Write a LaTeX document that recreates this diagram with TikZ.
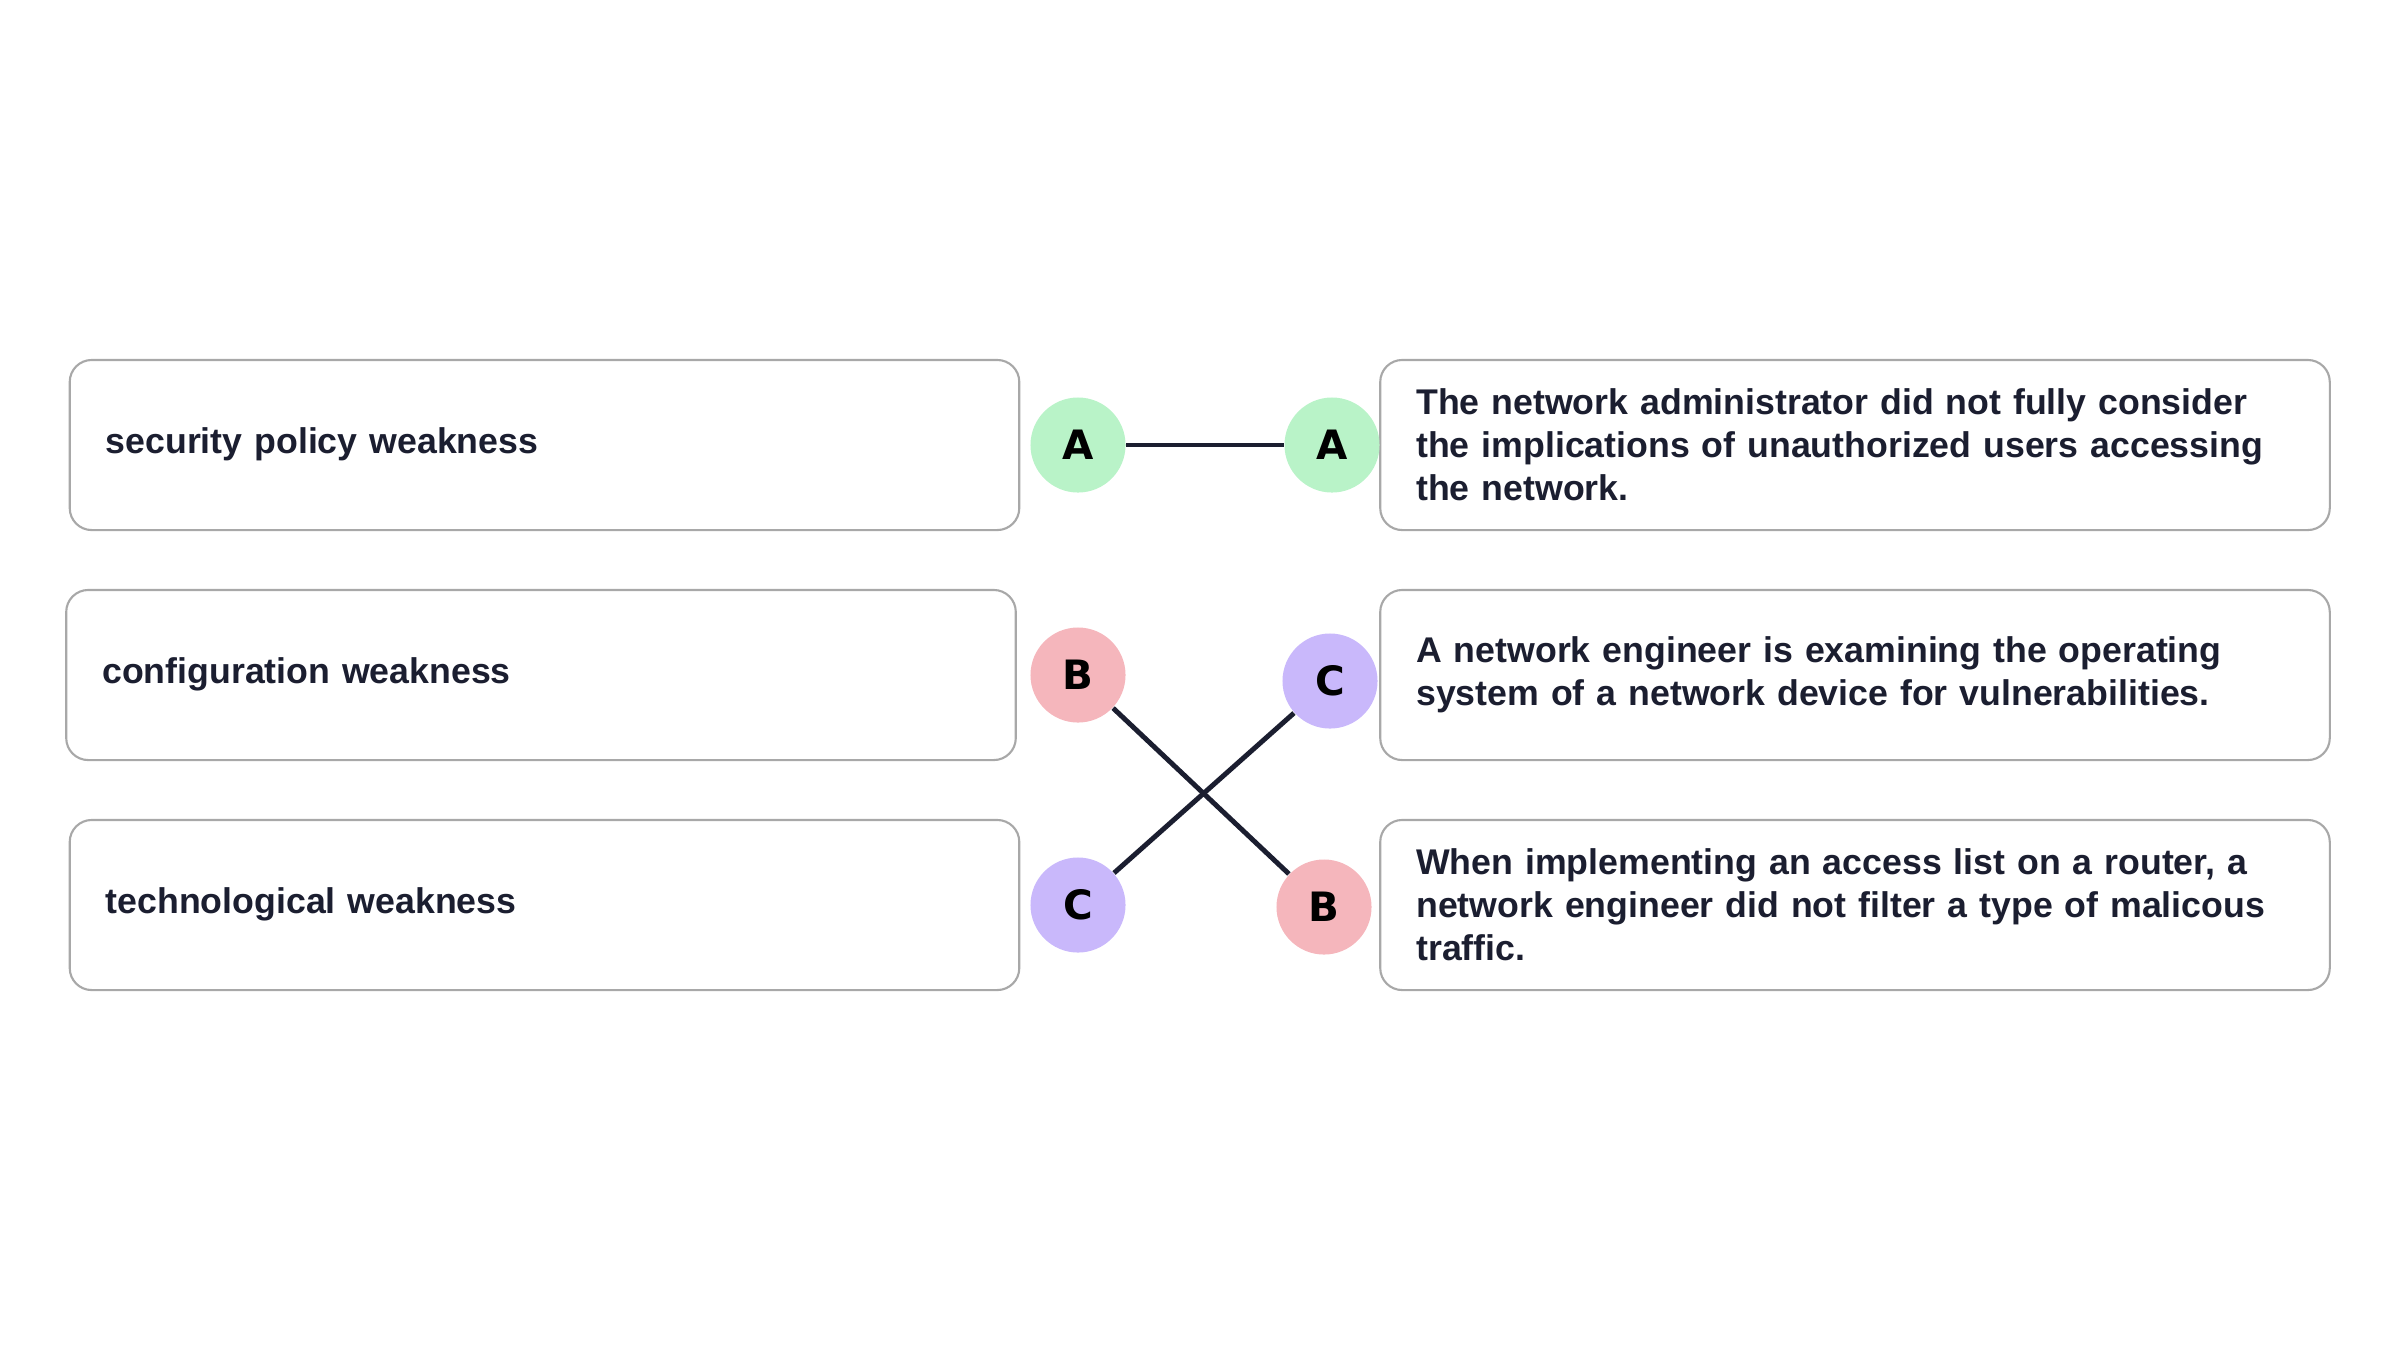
\documentclass[tikz,border=0pt]{standalone}
\usepackage{fontspec}
\setmainfont{Liberation Sans}
\newfontfamily\letterfont{DejaVu Sans}
\definecolor{ink}{HTML}{1B1E30}
\definecolor{edge}{HTML}{A8A8A8}
\definecolor{mintA}{HTML}{B9F3C8}
\definecolor{roseB}{HTML}{F5B6BC}
\definecolor{lilacC}{HTML}{C9B8FB}
\begin{document}
\begin{tikzpicture}[x=0.01cm,y=-0.01cm,
    card/.style={draw=edge,line width=0.6pt,rounded corners=0.22cm,fill=white,
        minimum width=9.49cm,minimum height=1.7cm,text width=8.77cm,inner xsep=0.36cm,
        align=left,text=ink,font=\fontsize{10.15}{12.2}\selectfont\bfseries},
    badge/.style={circle,minimum size=0.95cm,inner sep=0pt,text=black,
        font=\letterfont\fontsize{11.5}{11.5}\selectfont\bfseries},
    link/.style={draw=ink,line width=1.4pt}]
    \useasboundingbox (0,0) rectangle (2400,1350);
    \node[card] (sp) at (544.5,445) {\strut security policy weakness};
    \node[card] (cw) at (541,675)   {\strut configuration weakness};
    \node[card] (tw) at (544.5,905) {\strut technological weakness};
    \node[card] (da) at (1855,445) {The network administrator did not fully consider\\
        the implications of unauthorized users accessing\\the network.};
    \node[card] (dc) at (1855,675) {A network engineer is examining the operating\\
        system of a network device for vulnerabilities.};
    \node[card] (db) at (1855,905) {When implementing an access list on a router, a\\
        network engineer did not filter a type of malicous\\traffic.};
    \node[badge,fill=mintA]  (la) at (1078,445) {A};
    \node[badge,fill=roseB]  (lb) at (1078,675) {B};
    \node[badge,fill=lilacC] (lc) at (1078,905) {C};
    \node[badge,fill=mintA]  (ra) at (1332,445) {A};
    \node[badge,fill=lilacC] (rc) at (1330,681) {C};
    \node[badge,fill=roseB]  (rb) at (1324,907) {B};
    \draw[link] (la) -- (ra);
    \draw[link] (lb) -- (rb);
    \draw[link] (lc) -- (rc);
\end{tikzpicture}
\end{document}
